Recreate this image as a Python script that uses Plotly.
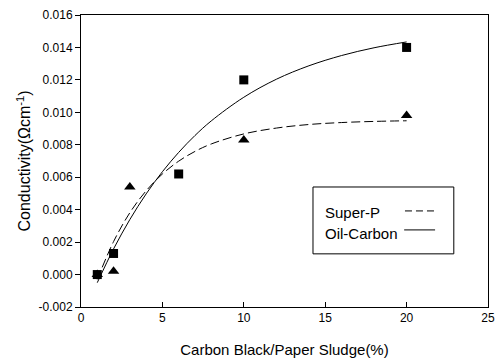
import plotly.graph_objects as go

# Measured points
sp_x = [1, 2, 3, 10, 20]
sp_y = [0.0, 0.0002, 0.0054, 0.0083, 0.0098]
oc_x = [1, 2, 6, 10, 20]
oc_y = [0.0, 0.0013, 0.0062, 0.0120, 0.0140]

# Fitted curves
curve_x = [1, 2, 3, 4, 5, 6, 7, 8, 10, 12, 14, 16, 18, 20]
sp_fit = [-0.0003, 0.00203, 0.00381, 0.00516, 0.0062, 0.00699, 0.00759, 0.00805,
          0.00867, 0.00903, 0.00925, 0.00937, 0.00944, 0.00948]
oc_fit = [-0.0005, 0.00158, 0.00339, 0.00497, 0.00634, 0.00753, 0.00857, 0.00947,
          0.01093, 0.01204, 0.01287, 0.0135, 0.01398, 0.01434]

x_ticks = [0, 5, 10, 15, 20, 25]
y_ticks = [-0.002, 0.0, 0.002, 0.004, 0.006, 0.008, 0.010, 0.012, 0.014, 0.016]
y_tick_text = ["-0.002", "0.000", "0.002", "0.004", "0.006", "0.008", "0.010",
               "0.012", "0.014", "0.016"]
legend_names = ["Super-P", "Oil-Carbon"]

FONT = "Liberation Sans, Arial, sans-serif"

fig = go.Figure()
fig.add_trace(go.Scatter(x=curve_x, y=oc_fit, mode="lines", line_shape="spline",
                         line=dict(color="black", width=1), showlegend=False))
fig.add_trace(go.Scatter(x=curve_x, y=sp_fit, mode="lines", line_shape="spline",
                         line=dict(color="black", width=1, dash="9px,4px"), showlegend=False))
fig.add_trace(go.Scatter(x=oc_x, y=oc_y, mode="markers",
                         marker=dict(symbol="square", size=9, color="black"), showlegend=False))
fig.add_trace(go.Scatter(x=sp_x, y=sp_y, mode="markers",
                         marker=dict(symbol="triangle-up", size=10, color="black"), showlegend=False))

# Manual legend (text, then line sample) inside a box
fig.add_shape(type="rect", xref="paper", yref="paper", x0=0.570, x1=0.916, y0=0.182, y1=0.411,
              line=dict(color="black", width=1), fillcolor="white")
fig.add_annotation(xref="paper", yref="paper", x=0.594, y=0.322, text=legend_names[0],
                   showarrow=False, xanchor="left", yanchor="middle",
                   font=dict(family=FONT, size=15, color="black"))
fig.add_annotation(xref="paper", yref="paper", x=0.594, y=0.253, text=legend_names[1],
                   showarrow=False, xanchor="left", yanchor="middle",
                   font=dict(family=FONT, size=15, color="black"))
fig.add_shape(type="line", xref="paper", yref="paper", x0=0.796, x1=0.870, y0=0.329, y1=0.329,
              line=dict(color="black", width=1, dash="7px,4px"))
fig.add_shape(type="line", xref="paper", yref="paper", x0=0.794, x1=0.870, y0=0.264, y1=0.264,
              line=dict(color="black", width=1))

fig.update_layout(
    width=495, height=363,
    margin=dict(l=81, r=7, t=15, b=56),
    paper_bgcolor="white", plot_bgcolor="white",
    font=dict(family=FONT, size=12, color="black"),
    showlegend=False,
)
fig.update_xaxes(range=[0, 25], tickvals=x_ticks, ticks="inside", ticklen=5,
                 tickcolor="black", showline=True, linecolor="black", linewidth=1,
                 mirror=True, showgrid=False, zeroline=False, automargin=False,
                 tickfont=dict(size=12), ticklabeloverflow="allow",
                 title=dict(text="Carbon Black/Paper Sludge(%)", font=dict(size=15), standoff=20))
fig.update_yaxes(range=[-0.002, 0.016], tickvals=y_ticks, ticktext=y_tick_text,
                 ticks="outside", ticklen=5, tickcolor="black",
                 showline=True, linecolor="black", linewidth=1, mirror=True,
                 showgrid=False, zeroline=False, automargin=False,
                 tickfont=dict(size=12),
                 title=dict(text="Conductivity(Ωcm<sup>-1</sup>)", font=dict(size=16), standoff=3))

# Remove the default page margin so the figure fills the 495x363 window exactly
fig.write_html("out.html", config={"displayModeBar": False},
               post_script="document.body.style.margin='0';")
